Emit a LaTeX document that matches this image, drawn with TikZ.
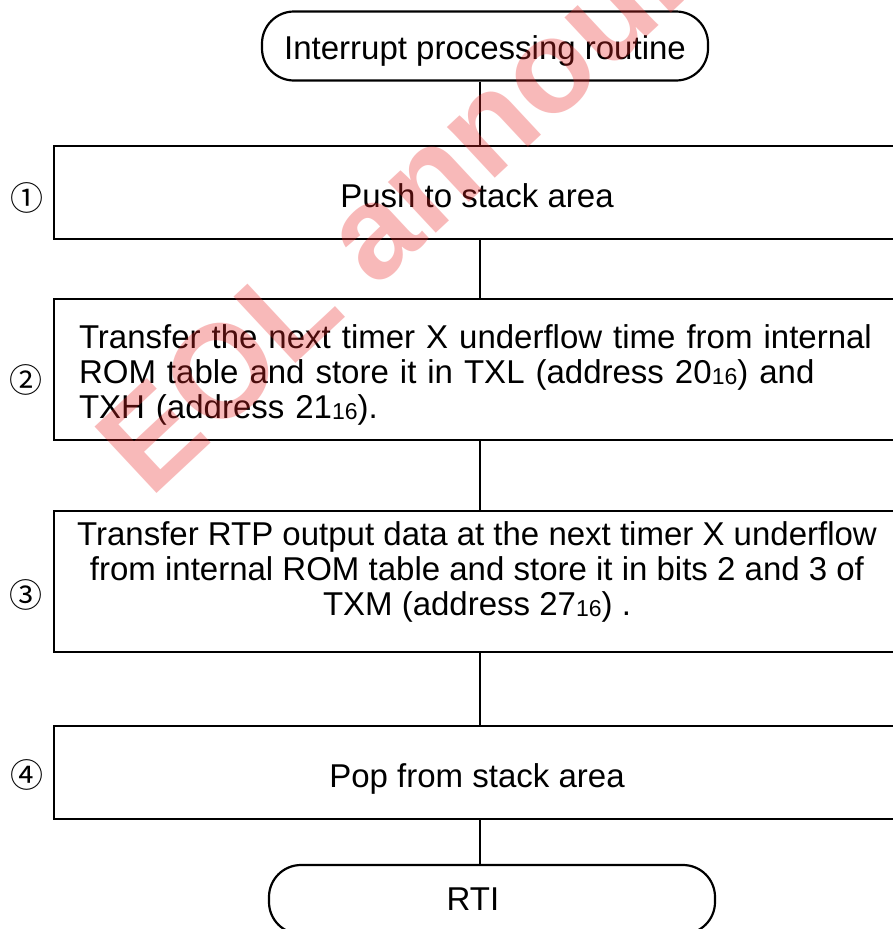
\documentclass[tikz,border=0pt]{standalone}
\usepackage{fontspec}
\setmainfont{Liberation Sans}
\newfontfamily\circfont{Noto Sans CJK JP}
\definecolor{wmred}{RGB}{235,40,40}
\newcommand{\hexsub}[1]{\raisebox{-1pt}{\fontsize{23}{23}\selectfont #1}}
\tikzset{
  term/.style={draw, line width=2.2pt, rounded corners=32pt, minimum width=446pt,
    minimum height=69pt, inner sep=0pt, font=\fontsize{33}{35}\selectfont},
  stepbox/.style={draw, line width=2.4pt, minimum width=846pt, inner sep=0pt,
    font=\fontsize{33}{35}\selectfont},
  conn/.style={line width=2pt},
  numlabel/.style={font=\circfont\fontsize{33}{33}\selectfont, inner sep=0pt},
  watermark/.style={rotate=43, anchor=base west, inner sep=0pt, text=wmred,
    text opacity=0.32, font=\fontsize{132}{132}\selectfont\bfseries}
}
\begin{document}
\begin{tikzpicture}[x=1pt,y=-1pt]
\useasboundingbox (0,0) rectangle (893,929);
\fill[white] (0,0) rectangle (893,929);
\clip (0,0) rectangle (893,929);

\node[term] (top) at (485,46) {\rule[-7pt]{0pt}{40pt}Interrupt processing routine};

\node[stepbox, minimum height=93pt] (b1) at (477,192.5)
  {\rule[-7pt]{0pt}{43pt}Push to stack area};

\node[stepbox, minimum height=141pt, text width=796pt, align=left] (b2) at (477,369.5)
  {\rule{0pt}{34pt}Transfer the next timer X underflow time from internal\\
   ROM table and store it in TXL (address 20\hexsub{16}) and\\
   TXH (address 21\hexsub{16}).\rule[-7pt]{0pt}{0pt}};

\node[stepbox, minimum height=141pt, align=center] (b3) at (477,581.5)
  {\rule{0pt}{24pt}Transfer RTP output data at the next timer X underflow\\
   from internal ROM table and store it in bits 2 and 3 of\\
   TXM (address 27\hexsub{16}) .\rule[-27pt]{0pt}{0pt}};

\node[stepbox, minimum height=93pt] (b4) at (477,772.5)
  {\rule[-7pt]{0pt}{43pt}Pop from stack area};

\node[term] (rti) at (492,899.5) {\hspace*{-38pt}\rule[-7pt]{0pt}{35pt}RTI};

\node[numlabel] (n1) at (27,198) {①};
\node[numlabel] (n2) at (26,380) {②};
\node[numlabel] (n3) at (26,595) {③};
\node[numlabel] (n4) at (27,775) {④};

\draw[conn] ([xshift=-5pt]top.south) -- ([xshift=3pt]b1.north);
\draw[conn] ([xshift=3pt]b1.south) -- ([xshift=3pt]b2.north);
\draw[conn] ([xshift=3pt]b2.south) -- ([xshift=3pt]b3.north);
\draw[conn] ([xshift=3pt]b3.south) -- ([xshift=3pt]b4.north);
\draw[conn] ([xshift=3pt]b4.south) -- ([xshift=-12pt]rti.north);

\node[watermark] (wm) at (150,500) {EOL announced};
\end{tikzpicture}
\end{document}
